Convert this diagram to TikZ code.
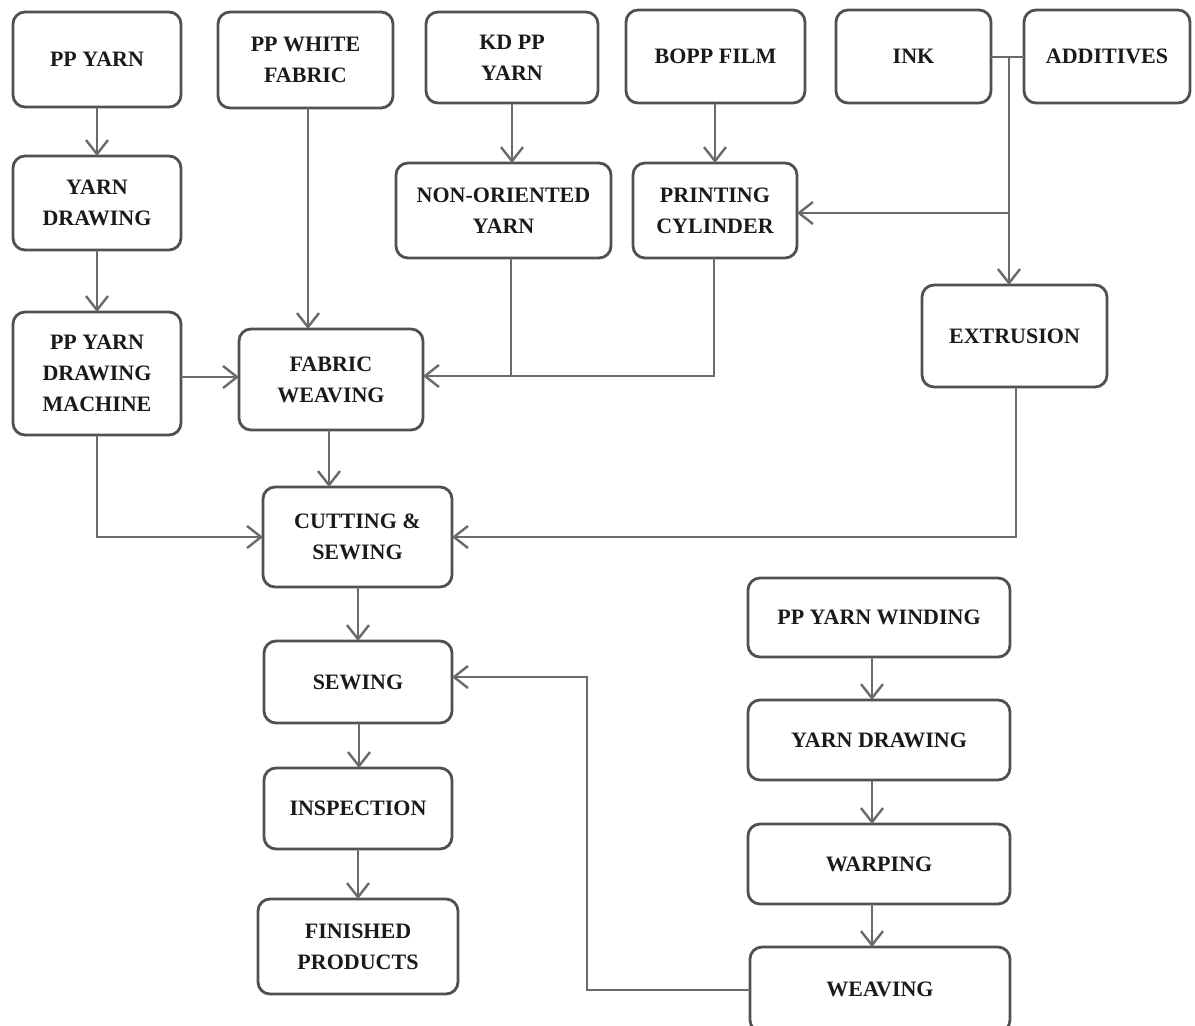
\documentclass[tikz,border=0pt]{standalone}
\usepackage{fontspec}
\setmainfont{Liberation Serif}
\usetikzlibrary{arrows.meta}
\definecolor{linec}{HTML}{6A6A6A}
\definecolor{boxc}{HTML}{505050}
\definecolor{txtc}{HTML}{1A1A1A}
\newcommand\bx[6]{%
  \pgfmathsetmacro\bw{(#4-#2)*0.5}%
  \pgfmathsetmacro\bh{(#5-#3)*0.5}%
  \node[box,minimum width=\bw pt,minimum height=\bh pt] (#1) at ({(#2+#4)/2},{(#3+#5)/2}) {#6};}
\begin{document}
\begin{tikzpicture}[x=0.5pt,y=-0.5pt,
  box/.style={draw=boxc,line width=1.4pt,rounded corners=6pt,inner sep=0pt,outer sep=0pt,
    align=center,text=txtc,font=\fontsize{11}{15.5}\selectfont\bfseries},
  arr/.style={draw=linec,line width=1.2pt,-{Straight Barb[length=7pt,width=11pt,line width=1.2pt]}},
  ln/.style={draw=linec,line width=1.2pt}]
\useasboundingbox (0,0) rectangle (1195,1025);
\bx{ppy}{13}{12}{181}{107}{PP YARN}
\bx{pwf}{218}{12}{393}{108}{PP WHITE\\FABRIC}
\bx{kd}{426}{12}{598}{103}{KD PP\\YARN}
\bx{bopp}{626}{10}{805}{103}{BOPP FILM}
\bx{ink}{836}{10}{991}{103}{INK}
\bx{add}{1024}{10}{1190}{103}{ADDITIVES}
\bx{yd}{13}{156}{181}{250}{YARN\\DRAWING}
\bx{nor}{396}{163}{611}{258}{NON-ORIENTED\\YARN}
\bx{pc}{633}{163}{797}{258}{PRINTING\\CYLINDER}
\bx{ppm}{13}{312}{181}{435}{PP YARN\\DRAWING\\MACHINE}
\bx{fw}{239}{329}{423}{430}{FABRIC\\WEAVING}
\bx{ext}{922}{285}{1107}{387}{EXTRUSION}
\bx{cs}{263}{487}{452}{587}{CUTTING \&\\SEWING}
\bx{sew}{264}{641}{452}{723}{SEWING}
\bx{insp}{264}{768}{452}{849}{INSPECTION}
\bx{fin}{258}{899}{458}{994}{FINISHED\\PRODUCTS}
\bx{wind}{748}{578}{1010}{657}{PP YARN WINDING}
\bx{yd2}{748}{700}{1010}{780}{YARN DRAWING}
\bx{warp}{748}{824}{1010}{904}{WARPING}
\bx{weave}{750}{947}{1010}{1032}{WEAVING}
% coordinates
\coordinate (j0) at (200,377);
\coordinate (j1) at (1009,57);
\coordinate (j2) at (1009,213);
\coordinate (j3) at (511,376);
\coordinate (j4) at (714,376);
\coordinate (j5) at (97,537);
\coordinate (j6) at (1016,537);
\coordinate (j7) at (587,990);
\coordinate (j8) at (587,677);
% left column
\draw[arr] (ppy.south) -- (yd.north);
\draw[arr] (yd.south) -- (ppm.north);
\draw[arr] (ppm.east |- j0) -- (fw.west |- j0);
\draw[arr] (308,108) -- (308,329);
\draw[arr] (kd.south) -- (nor.north -| kd.south);
\draw[arr] (bopp.south -| pc.north) -- (pc.north);
\draw[ln] (nor.south -| j3) -- (j3);
\draw[arr] (pc.south -| j4) -- (j4) -- (fw.east |- j4);
% ink / additives
\draw[ln] (ink.east |- j1) -- (add.west |- j1);
\draw[arr] (j1) -- (ext.north -| j1);
\draw[arr] (j2) -- (pc.east |- j2);
% to cutting
\draw[arr] (fw.south -| 329,0) -- (cs.north -| 329,0);
\draw[arr] (ppm.south -| j5) -- (j5) -- (cs.west |- j5);
\draw[arr] (ext.south -| j6) -- (j6) -- (cs.east |- j6);
% down chain
\draw[arr] (cs.south -| 358,0) -- (sew.north -| 358,0);
\draw[arr] (sew.south -| 359,0) -- (insp.north -| 359,0);
\draw[arr] (insp.south -| 358,0) -- (fin.north -| 358,0);
% right column
\draw[arr] (wind.south -| 872,0) -- (yd2.north -| 872,0);
\draw[arr] (yd2.south -| 872,0) -- (warp.north -| 872,0);
\draw[arr] (warp.south -| 872,0) -- (weave.north -| 872,0);
\draw[arr] (weave.west |- j7) -- (j7) -- (j8) -- (sew.east |- j8);
\end{tikzpicture}
\end{document}
